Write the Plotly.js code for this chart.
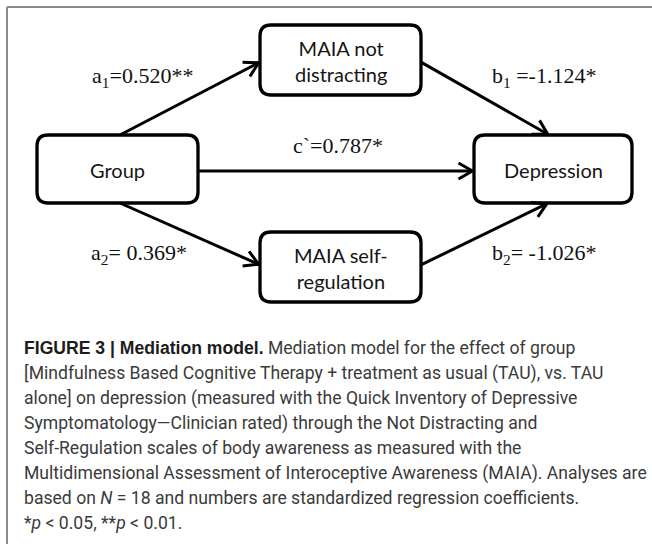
<!DOCTYPE html>
<html><head><meta charset="utf-8">
<script src="https://cdn.plot.ly/plotly-3.0.1.min.js"></script>
<style>html,body{margin:0;padding:0;background:#fff}</style>
</head><body><div id="chart" style="width:652px;height:544px"></div>
<script>
// ---- data ----
const nodeIds = ["group", "med1", "med2", "dep"];
const nodeLabels = ["Group", "MAIA not<br>distracting", "MAIA self-<br>regulation", "Depression"];
const edgeFrom = ["group", "group", "group", "med1", "med2"];
const edgeTo = ["med1", "med2", "dep", "dep", "dep"];
const edgeNames = ["a<sub>1</sub>=", "a<sub>2</sub>= ", "c`=", "b<sub>1</sub> =", "b<sub>2</sub>= "];
const edgeCoefs = ["0.520", "0.369", "0.787", "-1.124", "-1.026"];
const edgeStars = ["**", "*", "*", "*", "*"];
const captionLines = [
  "<span style=\"font-family:'Liberation Sans',Arial,sans-serif;font-weight:bold;color:#1c1c1c\">FIGURE 3 | Mediation model.</span> Mediation model for the effect of group",
  "[Mindfulness Based Cognitive Therapy + treatment as usual (TAU), vs. TAU",
  "alone] on depression (measured with the Quick Inventory of Depressive",
  "Symptomatology\u2014Clinician rated) through the Not Distracting and",
  "Self-Regulation scales of body awareness as measured with the",
  "Multidimensional Assessment of Interoceptive Awareness (MAIA). Analyses are",
  "based on <i>N</i> = 18 and numbers are standardized regression coefficients.",
  "*<i>p</i> < 0.05, **<i>p</i> < 0.01."
];

// ---- layout (positions in pixel space) ----
const box = {
  group: {x0: 37, x1: 198, y0: 135, y1: 203},
  med1:  {x0: 260, x1: 421, y0: 25, y1: 95},
  med2:  {x0: 260, x1: 421, y0: 232, y1: 302},
  dep:   {x0: 474, x1: 632, y0: 135, y1: 203}
};
const edgeGeom = [
  {s: ["group", 0.515, "top"], e: ["med1", "left", 0.53]},
  {s: ["group", 0.515, "bottom"], e: ["med2", "left", 0.47]},
  {s: ["group", "right", 0.53], e: ["dep", "left", 0.53]},
  {s: ["med1", "right", 0.53], e: ["dep", 0.475, "top"]},
  {s: ["med2", "right", 0.47], e: ["dep", 0.47, "bottom"]}
];
const labelPos = [[142, 77], [139, 254], [338, 145], [544, 77], [544, 254]];

function anchor(spec) {
  const b = box[spec[0]];
  let x, y;
  if (spec[1] === "left") { x = b.x0; y = b.y0 + spec[2] * (b.y1 - b.y0); }
  else if (spec[1] === "right") { x = b.x1; y = b.y0 + spec[2] * (b.y1 - b.y0); }
  else { x = b.x0 + spec[1] * (b.x1 - b.x0); y = spec[2] === "top" ? b.y0 : b.y1; }
  return [x, y];
}

function roundRect(b, r) {
  return `M${b.x0 + r},${b.y0} L${b.x1 - r},${b.y0} Q${b.x1},${b.y0} ${b.x1},${b.y0 + r} ` +
         `L${b.x1},${b.y1 - r} Q${b.x1},${b.y1} ${b.x1 - r},${b.y1} L${b.x0 + r},${b.y1} ` +
         `Q${b.x0},${b.y1} ${b.x0},${b.y1 - r} L${b.x0},${b.y0 + r} Q${b.x0},${b.y0} ${b.x0 + r},${b.y0} Z`;
}

const shapes = [];
const annotations = [];
const traces = [];

// outer frame
shapes.push({type: "line", x0: 7, x1: 652, y0: 7, y1: 7, line: {color: "#8c8c8c", width: 2}});
shapes.push({type: "line", x0: 7, x1: 7, y0: 7, y1: 544, line: {color: "#8c8c8c", width: 2}});

nodeIds.forEach((id, i) => {
  const b = box[id];
  shapes.push({type: "path", path: roundRect(b, 11), line: {color: "#000", width: 3.3}, fillcolor: "rgba(255,255,255,0)", layer: "above"});
  annotations.push({x: (b.x0 + b.x1) / 2, y: (b.y0 + b.y1) / 2 + 1, text: nodeLabels[i], showarrow: false,
    font: {family: "Lato, 'Open Sans', sans-serif", size: 20, color: "#151515", lineheight: 1.4}, xanchor: "center", yanchor: "middle"});
});

edgeFrom.forEach((f, i) => {
  const s = anchor(edgeGeom[i].s), e0 = anchor(edgeGeom[i].e);
  const dx = e0[0] - s[0], dy = e0[1] - s[1], L = Math.hypot(dx, dy);
  const ux = dx / L, uy = dy / L, h = 14, w = 8;
  const e = [e0[0] - ux * 1.5, e0[1] - uy * 1.5];
  const bx = e[0] - ux * h, by = e[1] - uy * h;
  const xs = [s[0], e[0], null, bx - uy * w, e[0], bx + uy * w];
  const ys = [s[1], e[1], null, by + ux * w, e[1], by - ux * w];
  traces.push({x: xs, y: ys, mode: "lines", line: {color: "#000", width: 3}, hoverinfo: "skip", showlegend: false});
  annotations.push({x: labelPos[i][0], y: labelPos[i][1], text: edgeNames[i] + edgeCoefs[i] + edgeStars[i],
    showarrow: false, font: {family: "'Liberation Serif', 'Times New Roman', serif", size: 22, color: "#111"},
    xanchor: "center", yanchor: "middle"});
});

captionLines.forEach((t, i) => {
  annotations.push({x: 22, y: 348 + i * 25, text: t, showarrow: false, xanchor: "left", yanchor: "middle",
    font: {family: "Roboto, 'Liberation Sans', sans-serif", size: 17.6, color: "#3a3a3a"}});
});

const layout = {
  width: 652, height: 544, margin: {l: 0, r: 0, t: 0, b: 0},
  paper_bgcolor: "#fff", plot_bgcolor: "#fff",
  xaxis: {range: [0, 652], visible: false, fixedrange: true},
  yaxis: {range: [544, 0], visible: false, fixedrange: true},
  shapes: shapes, annotations: annotations, showlegend: false
};
Plotly.newPlot("chart", traces, layout, {displayModeBar: false, staticPlot: true});
</script></body></html>
